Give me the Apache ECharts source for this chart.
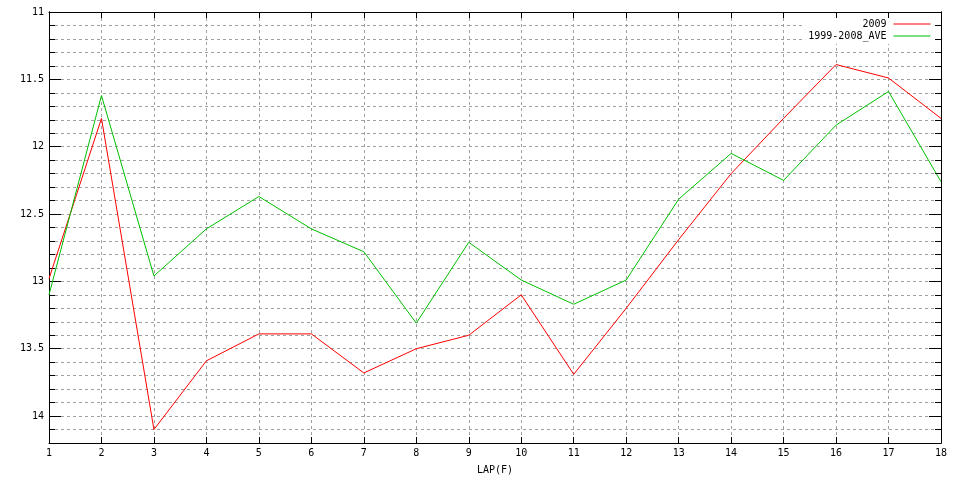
<!DOCTYPE html>
<html>
<head>
<meta charset="utf-8">
<script src="https://cdn.jsdelivr.net/npm/echarts@6/dist/echarts.min.js"></script>
<style>html,body{margin:0;padding:0;background:#fff}#c{width:960px;height:480px}</style>
</head>
<body>
<div id="c"></div>
<script>
const laps = [1,2,3,4,5,6,7,8,9,10,11,12,13,14,15,16,17,18];
const s2009 = [12.98, 11.79, 14.1, 13.59, 13.39, 13.39, 13.68, 13.5, 13.4, 13.1, 13.69, 13.2, 12.69, 12.2, 11.79, 11.39, 11.49, 11.79];
const sAve = [13.1, 11.62, 12.96, 12.61, 12.37, 12.61, 12.78, 13.31, 12.71, 12.99, 13.17, 12.99, 12.39, 12.05, 12.25, 11.84, 11.59, 12.26];
const yLabels = [11, 11.5, 12, 12.5, 13, 13.5, 14];

const FONT = 'DejaVu Sans Mono';
const chart = echarts.init(document.getElementById('c'));
const isMajor = v => yLabels.some(l => Math.abs(l - v) < 1e-6);
const gridLine = {show: true, lineStyle: {color: '#a0a0a0', type: [3, 3], width: 1}};
const axLine = {show: true, onZero: false, lineStyle: {color: '#000', width: 1}};
function yAx(pos, interval, len, labels, split, z) {
  return {
    type: 'value', inverse: true, min: 11, max: 14.2, interval: interval, position: pos, z: z,
    axisLine: axLine,
    axisTick: {show: true, inside: true, length: len, lineStyle: {color: '#000'}},
    splitLine: split ? gridLine : {show: false},
    axisLabel: labels ? {show: true, margin: 5, fontFamily: FONT, fontSize: 10, color: '#000',
      formatter: v => isMajor(v) ? String(Math.round(v * 10) / 10) : '', showMaxLabel: false} : {show: false}
  };
}
chart.setOption({
  animation: false,
  backgroundColor: '#fff',
  grid: {left: 49, right: 19, top: 12, bottom: 36},
  legend: {
    orient: 'vertical', right: 20, top: 13, padding: [6, 9, 3, 3], itemGap: 2, z: 1,
    backgroundColor: '#fff',
    itemWidth: 37, itemHeight: 10, align: 'right',
    itemStyle: {opacity: 0},
    lineStyle: {width: 1},
    textStyle: {fontFamily: FONT, fontSize: 10, color: '#000', padding: [0, 2, 0, 0]},
    data: ['2009', '1999-2008_AVE']
  },
  xAxis: [
    {type: 'value', min: 1, max: 18, interval: 1, position: 'bottom', z: 0,
     name: 'LAP(F)', nameLocation: 'middle', nameGap: 22,
     nameTextStyle: {fontFamily: FONT, fontSize: 10, color: '#000'},
     axisLine: axLine,
     axisTick: {show: true, inside: true, length: 6, lineStyle: {color: '#000'}},
     splitLine: gridLine,
     axisLabel: {margin: 5, fontFamily: FONT, fontSize: 10, color: '#000'}},
    {type: 'value', min: 1, max: 18, interval: 1, position: 'top', z: 3,
     axisLine: axLine,
     axisTick: {show: true, inside: true, length: 6, lineStyle: {color: '#000'}},
     splitLine: {show: false}, axisLabel: {show: false}}
  ],
  yAxis: [
    yAx('left', 0.1, 6, false, true, 0),
    yAx('left', 0.5, 12, true, false, 0),
    yAx('right', 0.1, 6, false, false, 3),
    yAx('right', 0.5, 12, false, false, 3)
  ],
  series: [
    {name: '2009', type: 'line', symbol: 'none', xAxisIndex: 0, yAxisIndex: 0, z: 2,
     lineStyle: {color: '#ff0000', width: 1}, itemStyle: {color: '#ff0000'},
     data: laps.map((l, i) => [l, s2009[i]])},
    {name: '1999-2008_AVE', type: 'line', symbol: 'none', xAxisIndex: 0, yAxisIndex: 0, z: 2,
     lineStyle: {color: '#00c000', width: 1}, itemStyle: {color: '#00c000'},
     data: laps.map((l, i) => [l, sAve[i]])}
  ]
});
</script>
</body>
</html>
